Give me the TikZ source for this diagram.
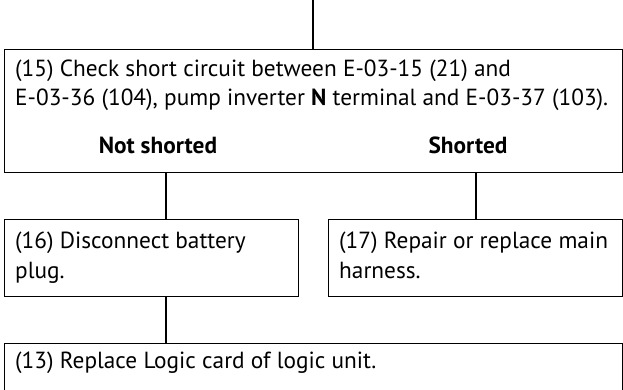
\documentclass[tikz,border=0pt]{standalone}
\usepackage{fontspec}
\setmainfont{PT Sans}
\usetikzlibrary{positioning}

\tikzset{
  stepbox/.style={draw, line width=1.1pt, rectangle, inner sep=0pt, anchor=north west},
  steptext/.style={inner sep=0pt, anchor=base west, font=\fontsize{23.4}{29}\selectfont},
  branchtext/.style={inner sep=0pt, anchor=base, font=\fontsize{23.4}{29}\selectfont\bfseries},
  link/.style={line width=1.1pt},
}

\begin{document}
\begin{tikzpicture}[x=1bp, y=-1bp]
		\clip (0,0) rectangle (623,389);
		\useasboundingbox (0,0) rectangle (623,389);
		
		% Boxes
		\node[stepbox, minimum width=618bp, minimum height=123bp] (c15) at (4,49) {};
		\node[stepbox, minimum width=294bp, minimum height=77bp] (c16) at (4,219) {};
		\node[stepbox, minimum width=294bp, minimum height=77bp] (c17) at (328,219) {};
		\node[stepbox, minimum width=618bp, minimum height=80bp] (c13) at (4,343) {};
		
		% Texts
		\node[steptext] (t15a) at (15,76) {(15) Check short circuit between E-03-15 (21) and};
		\node[steptext] (t15b) at (15,105) {E-03-36 (104), pump inverter \textbf{N} terminal and E-03-37 (103).};
		\node[branchtext] (no) at (158,153) {Not shorted};
		\node[branchtext] (yes) at (468,153) {Shorted};
		\node[steptext] (t16a) at (15,248) {(16) Disconnect battery};
		\node[steptext] (t16b) at (15,278) {plug.};
		\node[steptext] (t17a) at (339,248) {(17) Repair or replace main};
		\node[steptext] (t17b) at (339,278) {harness.};
		\node[steptext] (t13) at (15,368) {(13) Replace Logic card of logic unit.};
		
		% Connectors
		\coordinate (in) at (313,0);
		\coordinate (j16) at (166,0);
		\coordinate (j17) at (476,0);
		\draw[link] (in) -- (in |- c15.north);
		\draw[link] (c15.south -| j16) -- (c16.north -| j16);
		\draw[link] (c15.south -| j17) -- (c17.north -| j17);
		\draw[link] (c16.south -| j16) -- (c13.north -| j16);
	\end{tikzpicture}
\end{document}
